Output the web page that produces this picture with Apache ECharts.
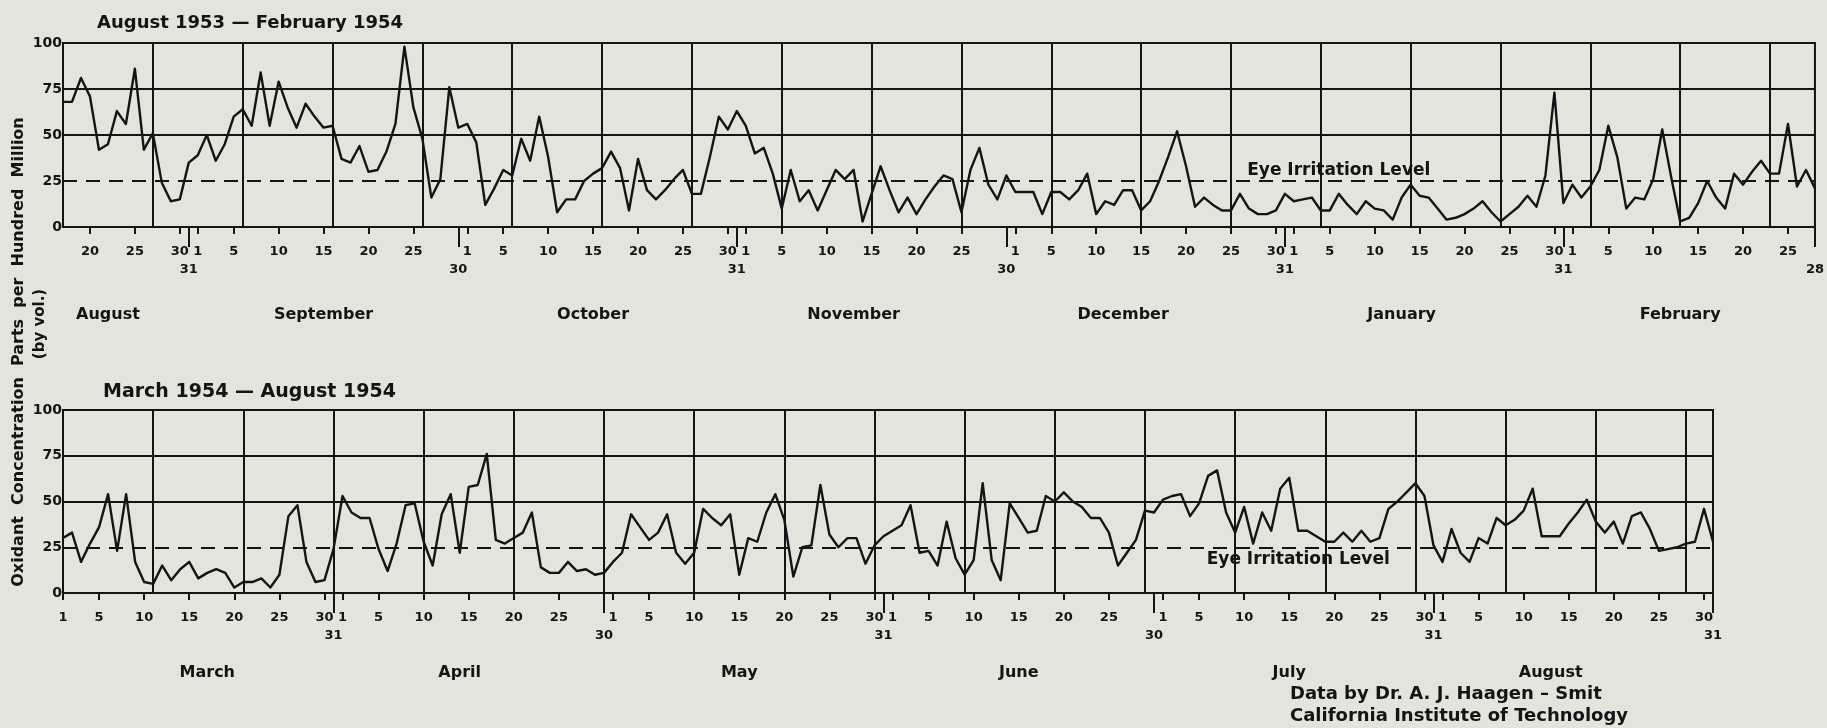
<!DOCTYPE html>
<html>
<head>
<meta charset="utf-8">
<script src="https://cdn.jsdelivr.net/npm/echarts@6/dist/echarts.min.js"></script>
<style>
  html, body { margin: 0; padding: 0; background: #e4e4dd; }
  #chart { width: 1827px; height: 728px; }
</style>
</head>
<body>
<div id="chart"></div>
<script>
// Daily oxidant readings, parts per hundred million (by volume)
const aug1953 = [68,68,81,71,42,45,63,56,86,42,51,24,14,15,35];            // Aug 17–31
const sep1953 = [39,50,36,45,60,64,55,84,55,79,65,54,67,60,54,55,37,35,44,30,31,41,56,98,65,48,16,26,76,54];
const oct1953 = [56,46,12,21,31,28,48,36,60,38,8,15,15,25,29,32,41,32,9,37,20,15,20,26,31,18,18,38,60,53,63];
const nov1953 = [55,40,43,29,10,31,14,20,9,20,31,26,31,3,18,33,20,8,16,7,15,22,28,26,8,31,43,23,15,28];
const dec1953 = [19,19,19,7,19,19,15,20,29,7,14,12,20,20,9,14,25,38,52,33,11,16,12,9,9,18,10,7,7,9,18];
const jan1954 = [14,15,16,9,9,18,12,7,14,10,9,4,16,23,17,16,10,4,5,7,10,14,8,3,7,11,17,11,28,73,13];
const feb1954 = [23,16,22,31,55,38,10,16,15,26,53,27,3,5,13,25,16,10,29,23,30,36,29,29,56,22,31,21];

const mar1954 = [30,33,17,27,36,54,23,54,17,6,5,15,7,13,17,8,11,13,11,3,6,6,8,3,10,42,48,17,6,7,24];
const apr1954 = [53,44,41,41,24,12,27,48,49,28,15,43,54,22,58,59,76,29,27,30,33,44,14,11,11,17,12,13,10,11];
const may1954 = [17,22,43,36,29,33,43,22,16,22,46,41,37,43,10,30,28,44,54,40,9,25,26,59,32,25,30,30,16,26,31];
const jun1954 = [34,37,48,22,23,15,39,19,10,18,60,18,7,49,41,33,34,53,50,55,50,47,41,41,33,15,22,29,45,44];
const jul1954 = [51,53,54,42,49,64,67,44,33,47,27,44,34,57,63,34,34,31,28,28,33,28,34,28,30,46,50,55,60,53,26];
const aug1954 = [17,35,22,17,30,27,41,37,40,45,57,31,31,31,38,44,51,39,33,39,27,42,44,35,23,24,25,27,28,46,28];

const firstMonths  = ['August', 'September', 'October', 'November', 'December', 'January', 'February'];
const firstSpans   = [[17, 31], [1, 30], [1, 31], [1, 30], [1, 31], [1, 31], [1, 28]];
const firstValues  = [aug1953, sep1953, oct1953, nov1953, dec1953, jan1954, feb1954];

const secondMonths = ['March', 'April', 'May', 'June', 'July', 'August'];
const secondSpans  = [[1, 31], [1, 30], [1, 31], [1, 30], [1, 31], [1, 31]];
const secondValues = [mar1954, apr1954, may1954, jun1954, jul1954, aug1954];

const tickDays = [1, 5, 10, 15, 20, 25, 30];       // day numbers printed under each month
const yTicks = [0, 25, 50, 75, 100];
const irritationLevel = 25;

// ---- layout ----
const INK = '#141414';
const FONT = '"DejaVu Sans", Lato, sans-serif';
const panels = [
  { title: 'August 1953 \u2014 February 1954', titleSize: 18, months: firstMonths, spans: firstSpans, values: firstValues,
    grid: { left: 63, top: 43, width: 1761, height: 184 }, titlePos: { left: 97, top: 14 },
    monthLabelDay: [22, 15, 15, 13, 13, 13, 13], monthMargin: 80, levelLabel: ['January', 6], levelSide: 'top' },
  { title: 'March 1954 \u2014 August 1954', titleSize: 19, months: secondMonths, spans: secondSpans, values: secondValues,
    grid: { left: 63, top: 410, width: 1650, height: 183 }, titlePos: { left: 103, top: 383 },
    monthLabelDay: [17, 14, 15, 15, 15, 13], monthMargin: 72, levelLabel: ['July', 16], levelSide: 'bottom' }
];

function buildPanel(p) {
  const cats = [], vals = [], mainTick = {}, endTick = {}, monthTick = {};
  p.months.forEach((name, m) => {
    const [start, end] = p.spans[m];
    for (let d = start; d <= end; d++) {
      const i = cats.length;
      cats.push(name + ' ' + d);
      vals.push(p.values[m][d - start]);
      if (d === end) endTick[i] = d;
      else if (tickDays.includes(d)) mainTick[i] = d;
      if (d === p.monthLabelDay[m]) monthTick[i] = name;
    }
  });
  return { cats, vals, mainTick, endTick, monthTick };
}

const labelText = { color: INK, fontFamily: FONT, fontWeight: 'bold' };
const option = {
  backgroundColor: '#e4e4dd',
  animation: false,
  title: [], grid: [], xAxis: [], yAxis: [], series: [],
  graphic: [
    { type: 'text', x: 19, y: 352, rotation: Math.PI / 2,
      style: { text: 'Oxidant  Concentration  Parts  per  Hundred  Million', fill: INK,
               font: 'bold 16px ' + FONT, align: 'center', verticalAlign: 'middle' } },
    { type: 'text', x: 40, y: 324, rotation: Math.PI / 2,
      style: { text: '(by vol.)', fill: INK, font: 'bold 15px ' + FONT, align: 'center', verticalAlign: 'middle' } },
    { type: 'text', x: 1290, y: 694,
      style: { text: 'Data by Dr. A. J. Haagen \u2013 Smit', fill: INK, font: 'bold 18px ' + FONT, verticalAlign: 'middle' } },
    { type: 'text', x: 1290, y: 716,
      style: { text: 'California Institute of Technology', fill: INK, font: 'bold 18px ' + FONT, verticalAlign: 'middle' } }
  ]
};

panels.forEach((p, g) => {
  const b = buildPanel(p);
  const dayOf = v => v.split(' ')[1];
  option.title.push({ text: p.title, left: p.titlePos.left, top: p.titlePos.top, padding: 0,
    textStyle: Object.assign({ fontSize: p.titleSize }, labelText) });
  option.grid.push(Object.assign({ show: true, borderColor: INK, borderWidth: 2, backgroundColor: 'transparent' }, p.grid));
  const ax = g * 3;
  option.xAxis.push(
    { type: 'category', gridIndex: g, data: b.cats, boundaryGap: false, position: 'bottom',
      axisLine: { show: false },
      axisTick: { show: true, length: 7, interval: i => i in b.mainTick, lineStyle: { color: INK, width: 2 } },
      axisLabel: Object.assign({ interval: i => i in b.mainTick, formatter: dayOf, margin: 18, fontSize: 13 }, labelText),
      splitLine: { show: true, interval: i => i % 10 === 0, lineStyle: { color: INK, width: 2 } } },
    { type: 'category', gridIndex: g, data: b.cats, boundaryGap: false, position: 'bottom',
      axisLine: { show: false },
      axisTick: { show: true, length: 20, interval: i => i in b.endTick, lineStyle: { color: INK, width: 2 } },
      axisLabel: Object.assign({ interval: i => i in b.endTick, formatter: dayOf, margin: 36, fontSize: 13 }, labelText),
      splitLine: { show: false } },
    { type: 'category', gridIndex: g, data: b.cats, boundaryGap: false, position: 'bottom',
      axisLine: { show: false }, axisTick: { show: false }, splitLine: { show: false },
      axisLabel: Object.assign({ interval: i => i in b.monthTick, formatter: v => v.split(' ')[0],
        margin: p.monthMargin, fontSize: 16 }, labelText) }
  );
  option.yAxis.push({
    type: 'value', gridIndex: g, min: yTicks[0], max: yTicks[yTicks.length - 1], interval: yTicks[1] - yTicks[0],
    axisLine: { show: false }, axisTick: { show: false },
    axisLabel: Object.assign({ margin: 1, fontSize: 14 }, labelText),
    splitLine: { show: true, lineStyle: { width: 2,
      color: yTicks.map(t => t === irritationLevel ? 'rgba(0,0,0,0)' : INK) } }
  });
  option.series.push({
    type: 'line', xAxisIndex: ax, yAxisIndex: g, data: b.vals,
    symbol: 'none', smooth: false,
    lineStyle: { color: INK, width: 2.4, join: 'round' },
    markLine: { silent: true, symbol: ['none', 'none'], label: { show: false },
      lineStyle: { color: INK, width: 2, type: [14, 9] },
      data: [{ yAxis: irritationLevel }] },
    markPoint: { silent: true, symbol: 'rect', symbolSize: 1, itemStyle: { color: 'rgba(0,0,0,0)' },
      data: [{ coord: [p.levelLabel[0] + ' ' + p.levelLabel[1], irritationLevel],
        label: Object.assign({ show: true, formatter: 'Eye Irritation Level', position: p.levelSide,
          distance: p.levelSide === 'top' ? 1 : 3, fontSize: 17 }, labelText) }] }
  });
});

const chart = echarts.init(document.getElementById('chart'));
chart.setOption(option);
</script>
</body>
</html>
